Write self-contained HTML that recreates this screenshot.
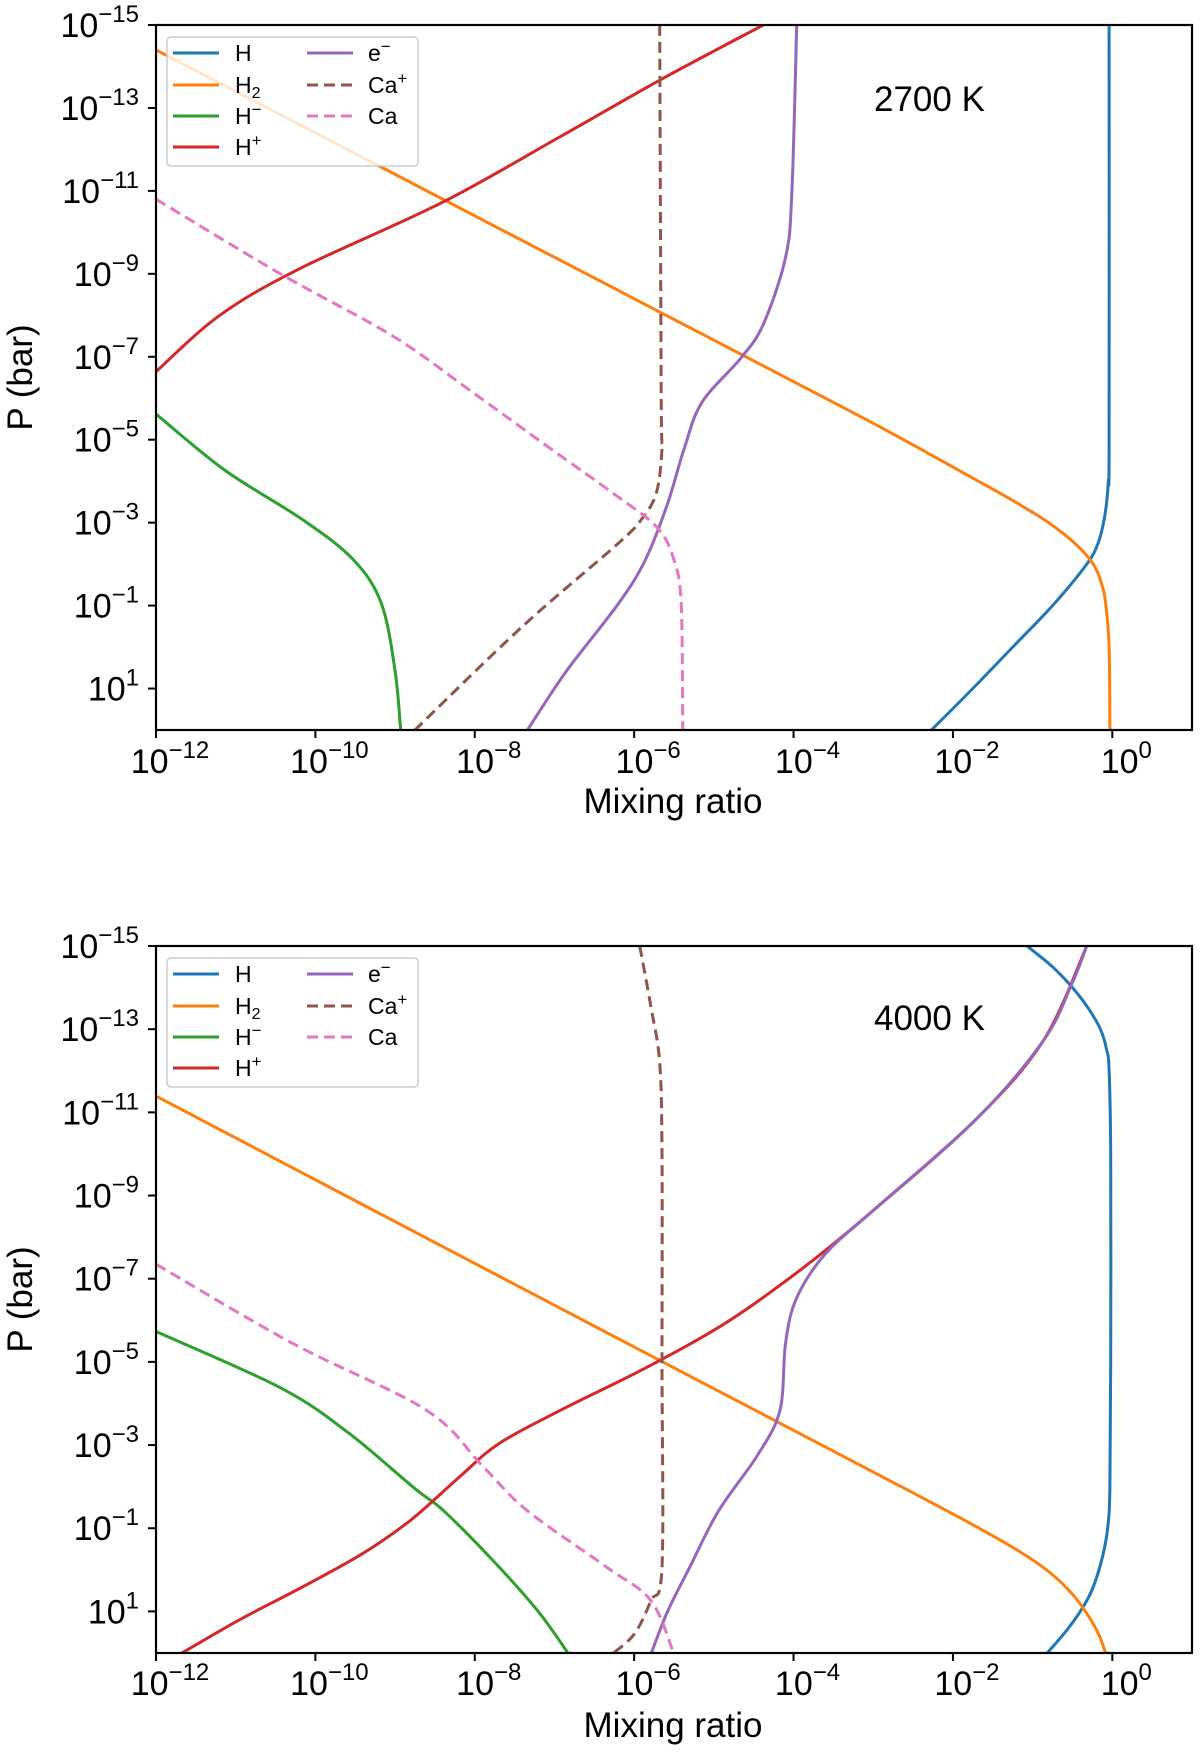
<!DOCTYPE html>
<html><head><meta charset="utf-8">
<style>
html,body{margin:0;padding:0;background:#fff;}
svg{display:block;font-family:"Liberation Sans","DejaVu Sans",sans-serif;}
</style></head>
<body>
<svg id="fig" width="1200" height="1752" viewBox="0 0 1200 1752" xmlns="http://www.w3.org/2000/svg"></svg>
<script>
// ---- data (log10 pressure, log10 mixing ratio) ----
const speciesNames = ["H","H2","H-","H+","e-","Ca+","Ca"];
const panelTitles = ["2700 K","4000 K"];
const xTickExps = [-12,-10,-8,-6,-4,-2,0];
const yTickExps = [-15,-13,-11,-9,-7,-5,-3,-1,1];

// Panel 1 (2700 K)
const p1_H_y  = [-15,-5,-4,-3.5,-3,-2.5,-2,-1,0,1,2];
const p1_H_x  = [-0.04,-0.04,-0.05,-0.07,-0.11,-0.18,-0.32,-0.75,-1.25,-1.75,-2.27];
const p1_H2_y = [-14.4,-10,-6,-5,-4.5,-4,-3.5,-3,-2.5,-2,-1.5,-1,0,2];
const p1_H2_x = [-12,-7.6,-3.6,-2.62,-2.15,-1.68,-1.22,-0.8,-0.47,-0.24,-0.13,-0.08,-0.04,-0.03];
const p1_Hm_y = [-5.62,-4.27,-3.06,-2.1,-1.04,0.58,2];
const p1_Hm_x = [-12,-11.14,-10.15,-9.52,-9.17,-9.0,-8.93];
const p1_Hp_y = [-6.64,-8,-9.12,-10.74,-12.36,-13.7,-15];
const p1_Hp_x = [-12,-11.2,-10.2,-8.39,-6.88,-5.65,-4.38];
const p1_e_y  = [-15,-11,-9.4,-7.78,-6.97,-5.9,-4.8,-3.46,-2.1,-1.04,0.58,2];
const p1_e_x  = [-3.96,-4.02,-4.1,-4.38,-4.66,-5.15,-5.37,-5.58,-5.86,-6.2,-6.85,-7.34];
const p1_Cap_y= [-15,-6,-4.8,-3.73,-3.1,-2.5,-0.5,2];
const p1_Cap_x= [-5.68,-5.66,-5.65,-5.72,-5.9,-6.2,-7.4,-8.75];
const p1_Ca_y = [-10.8,-9.0,-7.5,-6.16,-4.8,-3.73,-2.9,-2.1,-1.04,2];
const p1_Ca_x = [-12,-10.44,-9.03,-8.04,-7.06,-6.28,-5.72,-5.5,-5.41,-5.39];

// Panel 2 (4000 K)
const p2_H_y  = [-15,-14.5,-14,-13.5,-13,-12.5,-12,-10,-5,-2,-1.15,-0.5,0.2,0.74,1.4,2.03];
const p2_H_x  = [-1.07,-0.75,-0.5,-0.3,-0.15,-0.07,-0.04,-0.02,-0.02,-0.03,-0.05,-0.1,-0.2,-0.32,-0.55,-0.83];
const p2_H2_y = [-11.39,-6,-2,-0.88,-0.3,0.2,0.7,1.2,1.6,2.03];
const p2_H2_x = [-12,-6.64,-2.65,-1.56,-1.05,-0.7,-0.45,-0.27,-0.16,-0.08];
const p2_Hm_y = [-5.73,-4.38,-3.3,-1.95,-1.42,-0.2,1.01,2.03];
const p2_Hm_x = [-12,-10.44,-9.59,-8.75,-8.39,-7.76,-7.2,-6.82];
const p2_Hp_y = [2.03,1.2,0.4,-0.4,-1.2,-2.22,-3.03,-3.84,-4.92,-6.0,-7.35,-8.69,-10.85,-12.74,-15];
const p2_Hp_x = [-11.7,-10.95,-10.15,-9.4,-8.8,-8.2,-7.7,-6.92,-5.79,-4.8,-3.82,-2.97,-1.7,-0.86,-0.32];
const p2_e_y  = [-15,-14.08,-12.74,-10.85,-8.69,-7.6,-6.54,-5.46,-3.84,-2.76,-1.42,-0.07,1.0,2.03];
const p2_e_x  = [-0.32,-0.51,-0.86,-1.7,-2.97,-3.6,-3.96,-4.1,-4.17,-4.45,-4.94,-5.3,-5.58,-5.79];
const p2_Cap_y= [-15,-13.54,-12.2,-10,-5,-0.07,0.74,1.55,2.03];
const p2_Cap_x= [-5.93,-5.79,-5.68,-5.65,-5.65,-5.65,-5.79,-6.0,-6.28];
const p2_Ca_y = [-7.35,-5.46,-3.84,-2.49,-1.42,-0.07,0.74,2.03];
const p2_Ca_x = [-12,-10.3,-8.61,-7.9,-7.34,-6.35,-5.79,-5.5];

// ---- rendering ----
const NS = "http://www.w3.org/2000/svg";
const svg = document.getElementById("fig");
const colors = {"H":"#1f77b4","H2":"#ff7f0e","H-":"#2ca02c","H+":"#d62728","e-":"#9467bd","Ca+":"#8c564b","Ca":"#e377c2"};
const dashed = {"Ca+":true,"Ca":true};
function mk(tag, attrs, parent){const e=document.createElementNS(NS,tag);for(const k in attrs)e.setAttribute(k,attrs[k]);(parent||svg).appendChild(e);return e;}

const panels = [
 {top:25,bottom:730,title:panelTitles[0],titleY:111,xlabY:813,xtickY:773,
  series:[["H",p1_H_x,p1_H_y],["H2",p1_H2_x,p1_H2_y],["H-",p1_Hm_x,p1_Hm_y],["H+",p1_Hp_x,p1_Hp_y],["e-",p1_e_x,p1_e_y],["Ca+",p1_Cap_x,p1_Cap_y],["Ca",p1_Ca_x,p1_Ca_y]]},
 {top:946,bottom:1653,title:panelTitles[1],titleY:1030,xlabY:1737,xtickY:1695,
  series:[["H",p2_H_x,p2_H_y],["H2",p2_H2_x,p2_H2_y],["H-",p2_Hm_x,p2_Hm_y],["H+",p2_Hp_x,p2_Hp_y],["e-",p2_e_x,p2_e_y],["Ca+",p2_Cap_x,p2_Cap_y],["Ca",p2_Ca_x,p2_Ca_y]]}
];
const L=156,R=1192,XMIN=-12,XMAX=1,YMIN=-15,YMAX=2;

panels.forEach((p,pi)=>{
  const sx=v=>L+(v-XMIN)/(XMAX-XMIN)*(R-L);
  const sy=v=>p.top+(v-YMIN)/(YMAX-YMIN)*(p.bottom-p.top);
  const g=mk("g",{});
  
  
  const cid="clip"+pi;
  const cp=mk("clipPath",{id:cid},g);mk("rect",{x:L,y:p.top,width:R-L,height:p.bottom-p.top},cp);
  const lines=mk("g",{"clip-path":"url(#"+cid+")"},g);
  p.series.forEach(([name,xs,ys])=>{
    const pts=xs.map((x,i)=>[sx(x),sy(ys[i])]);
    let d="M"+pts[0][0].toFixed(1)+","+pts[0][1].toFixed(1);
    for(let i=0;i<pts.length-1;i++){
      const p0=pts[Math.max(0,i-1)],p1=pts[i],p2=pts[i+1],p3=pts[Math.min(pts.length-1,i+2)];
      const c1=[p1[0]+(p2[0]-p0[0])/6,p1[1]+(p2[1]-p0[1])/6];
      const c2=[p2[0]-(p3[0]-p1[0])/6,p2[1]-(p3[1]-p1[1])/6];
      d+=" C"+c1[0].toFixed(1)+","+c1[1].toFixed(1)+" "+c2[0].toFixed(1)+","+c2[1].toFixed(1)+" "+p2[0].toFixed(1)+","+p2[1].toFixed(1);
    }
    const path=mk("path",{d:d,fill:"none",stroke:colors[name],"stroke-width":3},lines);
    if(dashed[name])path.setAttribute("stroke-dasharray","11,6");
    
    
  });
  const frame=mk("rect",{x:L,y:p.top,width:R-L,height:p.bottom-p.top,fill:"none",stroke:"#000","stroke-width":2.2},g);
  
  
  // x ticks
  xTickExps.forEach(e=>{
    const x=sx(e);
    mk("line",{x1:x,x2:x,y1:p.bottom,y2:p.bottom+8,stroke:"#000","stroke-width":2},g);
    const t=mk("text",{x:x+14,y:p.xtickY,"font-size":34,"text-anchor":"middle"},g);
    
    
    t.innerHTML='10<tspan font-size="24" dy="-15">'+(e<0?'\u2212'+(-e):e)+'</tspan>';
  });
  // y ticks
  yTickExps.forEach(e=>{
    const y=sy(e);
    mk("line",{x1:L-8,x2:L,y1:y,y2:y,stroke:"#000","stroke-width":2},g);
    const t=mk("text",{x:139,y:y+12,"font-size":34,"text-anchor":"end"},g);
    
    
    t.innerHTML='10<tspan font-size="24" dy="-15">'+(e<0?'\u2212'+(-e):e)+'</tspan>';
  });
  const xl=mk("text",{x:673,y:p.xlabY,"font-size":35,"text-anchor":"middle"},g);
  xl.textContent="Mixing ratio";
  
  
  const cy=(p.top+p.bottom)/2;
  const yl=mk("text",{x:32,y:cy,"font-size":35,"text-anchor":"middle",transform:"rotate(-90 32 "+cy+")"},g);
  yl.textContent="P (bar)";
  
  
  const tt=mk("text",{x:874,y:p.titleY,"font-size":35},g);
  tt.textContent=p.title;
  
  
  // legend
  const lg=mk("g",{transform:"translate(0,"+(p.top-25)+")"},g);
  
  
  mk("rect",{x:167,y:37,width:251,height:129,rx:4,fill:"#fff","fill-opacity":0.8,stroke:"#ccc","stroke-width":1.5},lg);
  const labels={"H":"H","H2":'H<tspan font-size="16" dy="5">2</tspan>',"H-":'H<tspan font-size="17" dy="-9">\u2212</tspan>',"H+":'H<tspan font-size="17" dy="-9">+</tspan>',"e-":'e<tspan font-size="17" dy="-9">\u2212</tspan>',"Ca+":'Ca<tspan font-size="17" dy="-9">+</tspan>',"Ca":"Ca"};
  const rows=[53,85,116,147];
  speciesNames.forEach((n,i)=>{
    const col=i<4?0:1,row=i<4?i:i-4;
    const x1=col?307:173,tx=col?368:235,y=rows[row];
    const ln=mk("line",{x1:x1,x2:x1+46,y1:y,y2:y,stroke:colors[n],"stroke-width":3},lg);
    if(dashed[n])ln.setAttribute("stroke-dasharray","11,6");
    const t=mk("text",{x:tx,y:y+8,"font-size":23},lg);
    t.innerHTML=labels[n];
    
    
  });
});
</script>
</body></html>
